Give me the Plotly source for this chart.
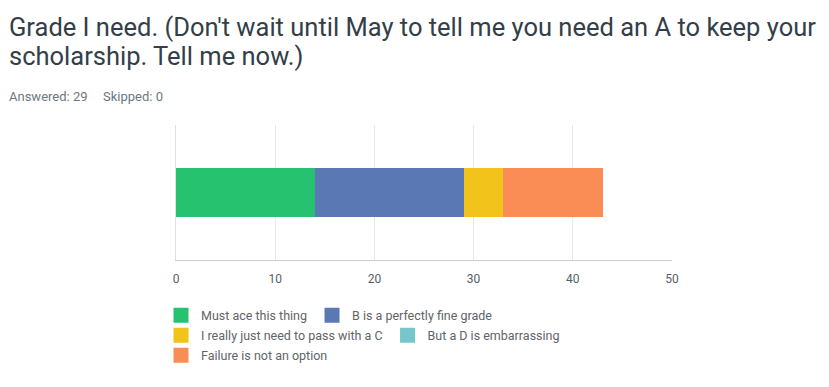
import plotly.graph_objects as go

categories = ["Grade"]
series_names = [
    "Must ace this thing",
    "B is a perfectly fine grade",
    "I really just need to pass with a C",
    "But a D is embarrassing",
    "Failure is not an option",
]
series_values = [14, 15, 4, 0, 10]
series_colors = ["#26C270", "#5A79B4", "#F2C31B", "#76C7CA", "#F98D55"]
legend_rows = ["legend", "legend", "legend2", "legend2", "legend3"]
tick_values = [0, 10, 20, 30, 40, 50]
title_lines = [
    "Grade I need. (Don't wait until May to tell me you need an A to keep your",
    "scholarship. Tell me now.)",
]
answered_text = "Answered: 29"
skipped_text = "Skipped: 0"

# page body has an 8px margin; reference pixel coords are shifted by it
OFF = 8
W, H = 829 - OFF, 387 - OFF
L, R, T, B = 176, 672, 125, 260  # plot area in reference pixels

def px_x(px):
    return (px - L) / (R - L)

def px_y(py):
    return (B - py) / (B - T)

fig = go.Figure()
for name, val, col in zip(series_names, series_values, series_colors):
    fig.add_trace(go.Bar(
        x=[val], y=categories, name=name, orientation="h",
        marker=dict(color=col, line=dict(width=0)),
        width=0.37, showlegend=False, hoverinfo="x+name",
    ))
# legend entries (15px square keys)
for name, col, lg in zip(series_names, series_colors, legend_rows):
    fig.add_trace(go.Scatter(
        x=[None], y=[None], mode="markers", name=name, legend=lg,
        marker=dict(symbol="square", size=15, color=col, line=dict(width=0)),
        hoverinfo="skip",
    ))

legend_common = dict(
    orientation="h", xanchor="left", yanchor="middle",
    font=dict(family="Roboto", size=12.5, color="#5f6468"),
    bgcolor="rgba(0,0,0,0)", traceorder="normal",
    itemclick=False, itemdoubleclick=False,
)

LEG_X = 161
TITLE_SIZE = 25.5
fig.update_layout(
    width=W, height=H,
    margin=dict(l=L - OFF, r=W - (R - OFF), t=T - OFF, b=H - (B - OFF), pad=0),
    paper_bgcolor="white", plot_bgcolor="white",
    barmode="stack",
    showlegend=True,
    xaxis=dict(
        range=[0, 50], tickvals=tick_values, showgrid=True,
        gridcolor="#e8e8e8", gridwidth=1, zeroline=False,
        showline=True, linecolor="#cccccc", linewidth=1,
        ticks="", ticklen=0, ticklabelstandoff=8,
        tickfont=dict(family="Roboto", size=12, color="#555f66"),
        fixedrange=True,
    ),
    yaxis=dict(
        showticklabels=False, showgrid=False, zeroline=False,
        showline=True, linecolor="#e0e0e0", linewidth=1,
        range=[-0.5, 0.5], fixedrange=True,
    ),
    legend=dict(x=px_x(LEG_X), y=px_y(315.5), **legend_common),
    legend2=dict(x=px_x(LEG_X), y=px_y(335.5), **legend_common),
    legend3=dict(x=px_x(LEG_X), y=px_y(355.5), **legend_common),
    annotations=[
        dict(
            text=title_lines[0],
            xref="paper", yref="paper", x=px_x(OFF), y=px_y(27.5),
            xanchor="left", yanchor="middle", align="left", showarrow=False,
            borderpad=0,
            font=dict(family="Roboto", size=TITLE_SIZE, color="#333e48"),
        ),
        dict(
            text=title_lines[1],
            xref="paper", yref="paper", x=px_x(OFF), y=px_y(56),
            xanchor="left", yanchor="middle", align="left", showarrow=False,
            borderpad=0,
            font=dict(family="Roboto", size=TITLE_SIZE, color="#333e48"),
        ),
        dict(
            text=answered_text,
            xref="paper", yref="paper", x=px_x(OFF), y=px_y(97),
            xanchor="left", yanchor="middle", align="left", showarrow=False,
            borderpad=0,
            font=dict(family="Roboto", size=13, color="#6b787f"),
        ),
        dict(
            text=skipped_text,
            xref="paper", yref="paper", x=px_x(102), y=px_y(97),
            xanchor="left", yanchor="middle", align="left", showarrow=False,
            borderpad=0,
            font=dict(family="Roboto", size=13, color="#6b787f"),
        ),
    ],
)

fig.write_html("out.html")
